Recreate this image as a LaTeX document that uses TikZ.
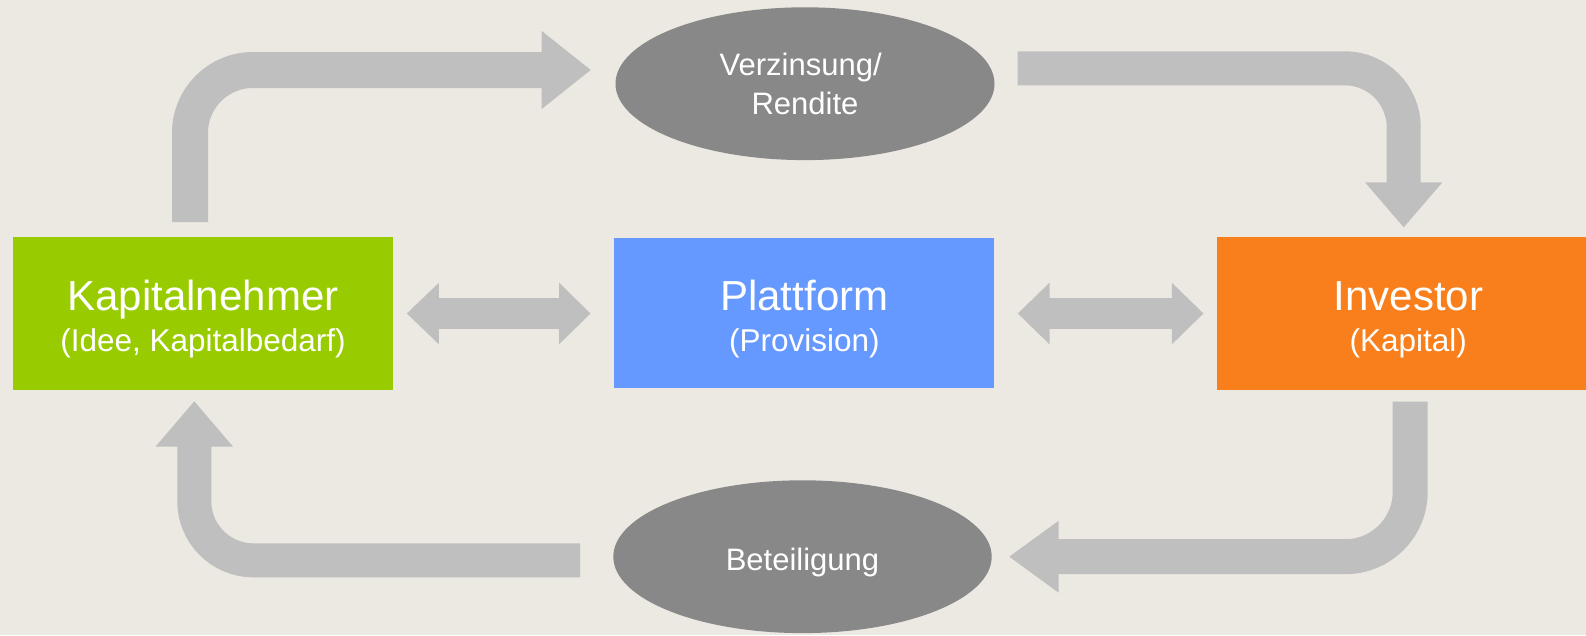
\documentclass[tikz,border=0pt]{standalone}
\usepackage{fontspec}
\setmainfont{Liberation Sans}
\usetikzlibrary{shapes.geometric,calc}

\definecolor{bgcol}{HTML}{ECE9E2}
\definecolor{arrowgray}{HTML}{BFBFBF}
\definecolor{ovalgray}{HTML}{888888}
\definecolor{kgreen}{HTML}{99CC00}
\definecolor{pblue}{HTML}{6699FF}
\definecolor{iorange}{HTML}{F97F1C}

% smaller second line inside the boxes
\newcommand\subsize{\fontsize{31.5pt}{40.7pt}\selectfont}
% triangular head of a block arrow: base point, tip, half width
\newcommand\blockhead[3]{%
  \fill[arrowgray] ($(#1)!#3!90:(#2)$) -- (#2) -- ($(#1)!#3!-90:(#2)$) -- cycle;}

\tikzset{
  box/.style={rectangle, minimum height=152.7pt, inner sep=0pt,
    text=white, align=center, font=\fontsize{42pt}{40.7pt}\selectfont},
  oval/.style={ellipse, fill=ovalgray, minimum width=379pt, minimum height=152.8pt,
    inner sep=0pt, text=white, font=\fontsize{31pt}{39pt}\selectfont},
  shaft/.style={draw=arrowgray, line cap=butt, line join=round},
}

\begin{document}
\begin{tikzpicture}[x=1pt,y=-1pt]
  \useasboundingbox (0,0) rectangle (1586,635);
  \clip (0,0) rectangle (1586,635);
  \fill[bgcol] (0,0) rectangle (1586,635);

  % participants
  \node[box, fill=kgreen, minimum width=380.6pt] (kn) at (203,313.6)
    {\rule{0pt}{42pt}Kapitalnehmer\\\subsize(Idee, Kapitalbedarf)};
  \node[box, fill=pblue, minimum width=380pt, minimum height=150pt] (pf) at (804.3,313.3)
    {\rule{0pt}{42pt}Plattform\\\subsize(Provision)};
  \node[box, fill=iorange, minimum width=382pt, minimum height=153pt] (inv) at (1408.3,313.5)
    {\rule{0pt}{42pt}Investor\\\subsize(Kapital)};

  % flows
  \node[oval, align=center] (rend) at (805,83.7)
    {\rule{0pt}{23.6pt}Verzinsung/\hspace*{0.278em}\\Rendite};
  \node[oval, minimum width=378.4pt, text height=26.6pt, text depth=0pt] (bet) at (802.5,556.7) {Beteiligung};

  % Kapitalnehmer -> Verzinsung/Rendite
  \coordinate (a1s) at (190,222);
  \coordinate (a1c) at (190,70);
  \coordinate (a1b) at (541.7,70);
  \coordinate (a1t) at (590.7,70);
  \draw[shaft, line width=36pt, rounded corners=63pt] (a1s) -- (a1c) -- ($(a1b)+(0.5,0)$);
  \blockhead{a1b}{a1t}{39pt}

  % Verzinsung/Rendite -> Investor
  \coordinate (a2s) at (1017.7,68.3);
  \coordinate (a2c) at (1403.7,68.3);
  \coordinate (a2b) at (1403.7,182.3);
  \coordinate (a2t) at (1403.7,227.3);
  \draw[shaft, line width=34pt, rounded corners=59pt] (a2s) -- (a2c) -- ($(a2b)+(0,0.5)$);
  \blockhead{a2b}{a2t}{38.7pt}

  % Investor -> Beteiligung
  \coordinate (a3s) at (1410.2,401.7);
  \coordinate (a3c) at (1410.2,556.7);
  \coordinate (a3b) at (1058.7,556.7);
  \coordinate (a3t) at (1009.3,556.7);
  \draw[shaft, line width=35pt, rounded corners=65pt] (a3s) -- (a3c) -- ($(a3b)+(-0.5,0)$);
  \blockhead{a3b}{a3t}{36pt}

  % Beteiligung -> Kapitalnehmer
  \coordinate (a4s) at (580,560.3);
  \coordinate (a4c) at (194.3,560.3);
  \coordinate (a4b) at (194.3,446.7);
  \coordinate (a4t) at (194.3,401.3);
  \draw[shaft, line width=34pt, rounded corners=59pt] (a4s) -- (a4c) -- ($(a4b)+(0,-0.5)$);
  \blockhead{a4b}{a4t}{38.8pt}

  % Kapitalnehmer <-> Plattform
  \coordinate (d1l) at ($(kn.east |- 0,313.5)+(45.4,0)$);
  \coordinate (d1r) at ($(pf.west |- 0,313.5)+(-55,0)$);
  \coordinate (d1lt) at ($(kn.east |- 0,313.5)+(13.4,0)$);
  \coordinate (d1rt) at ($(pf.west |- 0,313.5)+(-23.6,0)$);
  \draw[shaft, line width=31.6pt] ($(d1l)+(-0.5,0)$) -- ($(d1r)+(0.5,0)$);
  \blockhead{d1l}{d1lt}{30.8pt}
  \blockhead{d1r}{d1rt}{30.8pt}

  % Plattform <-> Investor
  \coordinate (d2l) at ($(pf.east |- 0,313.5)+(55,0)$);
  \coordinate (d2r) at ($(inv.west |- 0,313.5)+(-45.3,0)$);
  \coordinate (d2lt) at ($(pf.east |- 0,313.5)+(23.4,0)$);
  \coordinate (d2rt) at ($(inv.west |- 0,313.5)+(-13.6,0)$);
  \draw[shaft, line width=31.6pt] ($(d2l)+(-0.5,0)$) -- ($(d2r)+(0.5,0)$);
  \blockhead{d2l}{d2lt}{30.8pt}
  \blockhead{d2r}{d2rt}{30.8pt}
\end{tikzpicture}
\end{document}
